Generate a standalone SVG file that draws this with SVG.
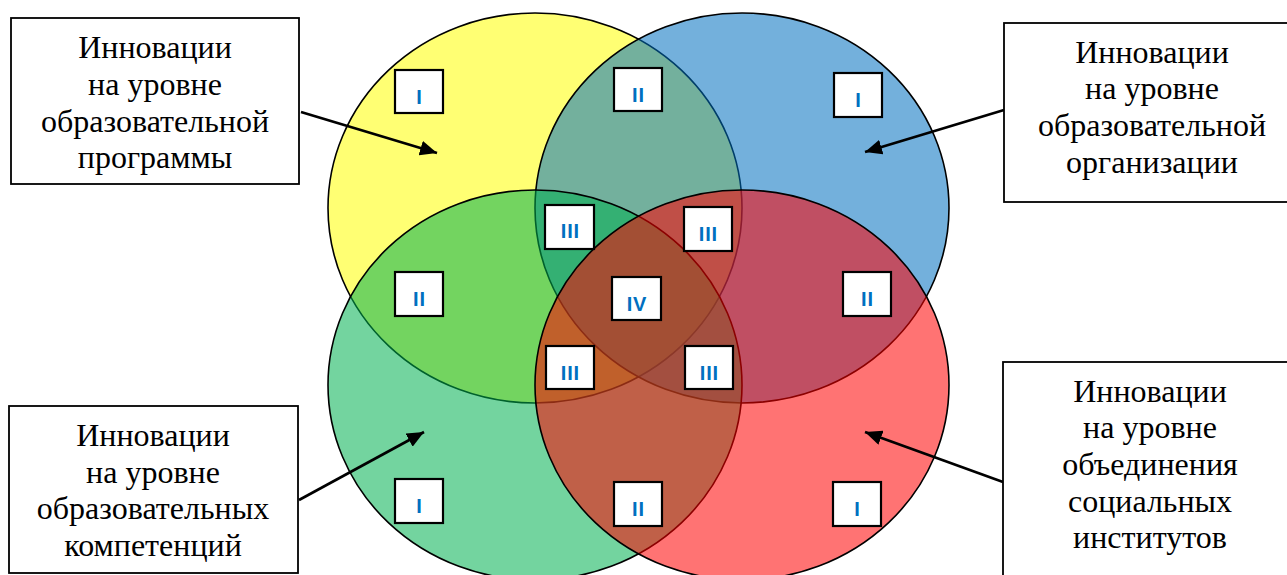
<svg xmlns="http://www.w3.org/2000/svg" width="1287" height="575" viewBox="0 0 1287 575">
<style>
.circ{fill-opacity:0.55;stroke:#000;stroke-width:1.6}
.lbl{fill:#fff;stroke:#000;stroke-width:2.2}
.lt{font-family:"Liberation Sans",Arial,sans-serif;font-weight:bold;font-size:20px;letter-spacing:0.8px;fill:#0070C0;text-anchor:middle}
.box{fill:#fff;stroke:#000;stroke-width:1.8}
.bt{font-family:"Liberation Serif","Times New Roman",serif;font-size:32px;fill:#000;text-anchor:middle}
.conn{stroke:#000;stroke-width:2.6;fill:none;marker-end:url(#ah)}
</style>
<defs>
<marker id="ah" markerUnits="userSpaceOnUse" markerWidth="18" markerHeight="15" refX="17" refY="7.5" orient="auto">
<path d="M0,0 L17,7.5 L0,15 Z" fill="#000"/>
</marker>
</defs>
<rect width="1287" height="575" fill="#fff"/>
<g id="circles">
<ellipse id="c-yellow" class="circ" cx="535" cy="208" rx="207" ry="195" fill="#FFFF00"/>
<ellipse id="c-blue" class="circ" cx="742" cy="208" rx="207" ry="195" fill="#0070C0"/>
<ellipse id="c-green" class="circ" cx="535" cy="385" rx="207" ry="195" fill="#00B050"/>
<ellipse id="c-red" class="circ" cx="742" cy="385" rx="207" ry="195" fill="#FF0000"/>
</g>
<g id="region-labels">
<g id="r-y1"><rect class="lbl" x="395" y="70" width="48" height="43"/><text class="lt" x="419.4" y="103.5">I</text></g>
<g id="r-yb2"><rect class="lbl" x="614" y="68" width="48" height="43"/><text class="lt" x="638.4" y="101.5">II</text></g>
<g id="r-b1"><rect class="lbl" x="834" y="73" width="48" height="44"/><text class="lt" x="858.4" y="106.5">I</text></g>
<g id="r-yg2"><rect class="lbl" x="395" y="272" width="48" height="44"/><text class="lt" x="419.4" y="305.5">II</text></g>
<g id="r-ybg3"><rect class="lbl" x="545" y="205" width="49" height="44"/><text class="lt" x="570.4" y="238">III</text></g>
<g id="r-ybr3"><rect class="lbl" x="684" y="207" width="48" height="44"/><text class="lt" x="708.4" y="240.5">III</text></g>
<g id="r-4"><rect class="lbl" x="612" y="277" width="49" height="43"/><text class="lt" x="636.9" y="311">IV</text></g>
<g id="r-br2"><rect class="lbl" x="843" y="272" width="48" height="44"/><text class="lt" x="867.4" y="305.5">II</text></g>
<g id="r-ygr3"><rect class="lbl" x="546" y="346" width="48" height="43"/><text class="lt" x="570.4" y="379.5">III</text></g>
<g id="r-bgr3"><rect class="lbl" x="685" y="346" width="48" height="43"/><text class="lt" x="709.4" y="379.5">III</text></g>
<g id="r-g1"><rect class="lbl" x="395" y="479" width="48" height="44"/><text class="lt" x="419.4" y="512.5">I</text></g>
<g id="r-gr2"><rect class="lbl" x="614" y="482" width="48" height="44"/><text class="lt" x="638.4" y="515.5">II</text></g>
<g id="r-r1"><rect class="lbl" x="833" y="482" width="48" height="44"/><text class="lt" x="857.4" y="515.5">I</text></g>
</g>
<g id="connectors">
<line class="conn" x1="301" y1="112" x2="437" y2="153"/>
<line class="conn" x1="1004" y1="110" x2="865" y2="152"/>
<line class="conn" x1="299" y1="500" x2="424" y2="432"/>
<line class="conn" x1="1003" y1="482" x2="865" y2="432"/>
</g>
<g id="box-program">
<rect class="box" x="11" y="18" width="288" height="166"/>
<text class="bt" x="155" y="58">Инновации</text>
<text class="bt" x="155" y="95">на уровне</text>
<text class="bt" x="155" y="132">образовательной</text>
<text class="bt" x="155" y="168">программы</text>
</g>
<g id="box-organization">
<rect class="box" x="1004" y="23" width="300" height="179"/>
<text class="bt" x="1152" y="63">Инновации</text>
<text class="bt" x="1152" y="99">на уровне</text>
<text class="bt" x="1152" y="136">образовательной</text>
<text class="bt" x="1152" y="173">организации</text>
</g>
<g id="box-competencies">
<rect class="box" x="9" y="406" width="289" height="167"/>
<text class="bt" x="153" y="446">Инновации</text>
<text class="bt" x="153" y="483">на уровне</text>
<text class="bt" x="153" y="519">образовательных</text>
<text class="bt" x="153" y="556">компетенций</text>
</g>
<g id="box-institutes">
<rect class="box" x="1003" y="362" width="300" height="230"/>
<text class="bt" x="1150" y="402">Инновации</text>
<text class="bt" x="1150" y="438">на уровне</text>
<text class="bt" x="1150" y="475">объединения</text>
<text class="bt" x="1150" y="512">социальных</text>
<text class="bt" x="1150" y="548">институтов</text>
</g>
</svg>
